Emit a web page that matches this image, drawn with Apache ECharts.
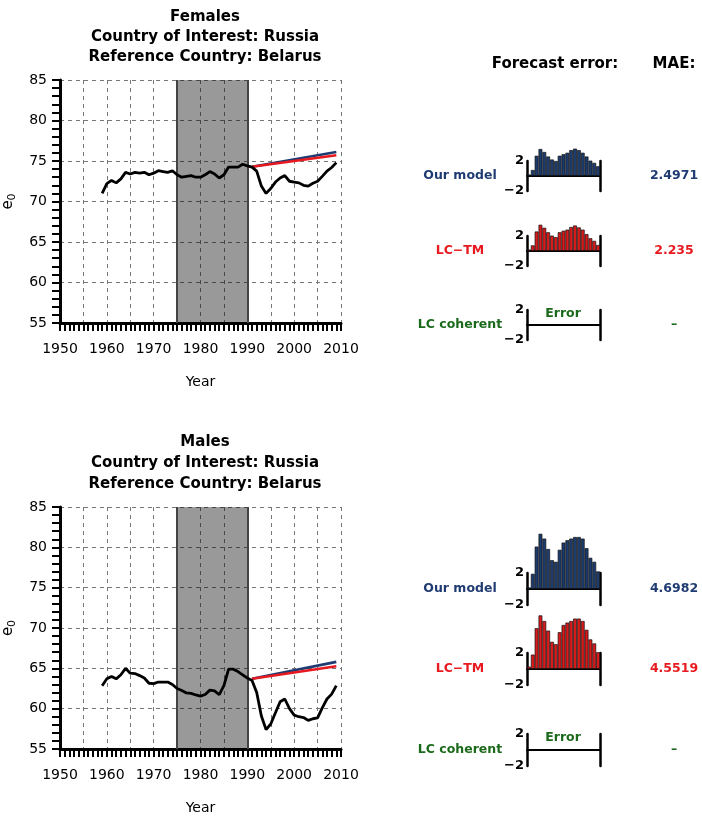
<!DOCTYPE html>
<html><head><meta charset="utf-8">
<script src="https://cdn.jsdelivr.net/npm/echarts@6/dist/echarts.min.js"></script>
<style>html,body{margin:0;padding:0;background:#fff}#c{width:702px;height:816px}</style>
</head><body><div id="c"></div>
<script>
// ---------- data ----------
const obsYears = [1959,1960,1961,1962,1963,1964,1965,1966,1967,1968,1969,1970,1971,1972,1973,1974,1975,1976,1977,1978,1979,1980,1981,1982,1983,1984,1985,1986,1987,1988,1989,1990,1991,1992,1993,1994,1995,1996,1997,1998,1999,2000,2001,2002,2003,2004,2005,2006,2007,2008,2009];
const femaleE0 = [71.0,72.2,72.6,72.3,72.8,73.6,73.4,73.6,73.5,73.6,
                  73.3,73.5,73.8,73.7,73.6,73.8,73.3,73.0,73.1,73.2,
                  73.0,73.0,73.3,73.7,73.4,72.9,73.3,74.25,74.25,74.25,
                  74.6,74.4,74.25,73.75,71.9,71.0,71.6,72.4,72.9,73.2,
                  72.5,72.4,72.3,72.0,71.9,72.25,72.5,73.1,73.75,74.2,
                  74.8];
const maleE0 = [62.85,63.7,64.0,63.7,64.2,65.0,64.4,64.35,64.1,63.8,
                63.15,63.1,63.3,63.3,63.3,63.0,62.5,62.25,61.95,61.9,
                61.7,61.55,61.75,62.3,62.2,61.75,62.85,64.9,64.9,64.6,
                64.2,63.8,63.5,62.0,59.1,57.4,58.1,59.5,60.85,61.2,
                60.0,59.2,59.0,58.9,58.55,58.75,58.85,60.1,61.2,61.8,
                62.85];
const forecastYears = [1991, 2009];
const femaleOurModel = [74.3, 76.1];
const femaleLCTM = [74.3, 75.7];
const maleOurModel = [63.7, 65.8];
const maleLCTM = [63.7, 65.25];
const shadeYears = [1975, 1990];

const errorYears = [1991,1992,1993,1994,1995,1996,1997,1998,1999,2000,2001,2002,2003,2004,2005,2006,2007,2008,2009];
const femaleErrOur = [0.2,0.8,2.7,3.6,3.2,2.6,2.2,2.0,2.7,2.9,3.1,3.45,3.65,3.45,3.1,2.6,2.05,1.75,1.3];
const femaleErrLCTM = [0.2,0.75,2.6,3.5,3.1,2.5,2.05,1.85,2.5,2.7,2.85,3.2,3.4,3.15,2.85,2.25,1.7,1.35,0.8];
const maleErrOur = [0.2,1.9,5.3,6.9,6.3,5.0,3.6,3.4,4.9,5.8,6.1,6.3,6.5,6.5,6.3,5.1,3.9,3.4,2.2];
const maleErrLCTM = [0.3,1.8,5.1,6.7,6.0,4.8,3.4,3.1,4.6,5.5,5.8,6.0,6.3,6.3,6.0,4.9,3.7,3.2,2.1];

const modelNames = ['Our model', 'LC\u2212TM', 'LC coherent'];
const maeFemale = ['2.4971', '2.235', '\u2013'];
const maeMale = ['4.6982', '4.5519', '\u2013'];
const panelTitles = [
  'Females\nCountry of Interest: Russia\nReference Country: Belarus',
  'Males\nCountry of Interest: Russia\nReference Country: Belarus'
];

// ---------- styles ----------
const FONT = 'DejaVu Sans';
const NAVY = '#1f3b72', RED = '#e8191f', GREEN = '#1b6a1b';
const BAR_NAVY = '#1d3c6e', BAR_RED = '#d81a1a';
const modelColors = [NAVY, RED, GREEN];

const grids = [], xAxes = [], yAxes = [], series = [], graphics = [];

function mainPanel(top, obs, ours, lctm) {
  const gi = grids.length;
  grids.push({left: 60, top: top, width: 281, height: 243});
  xAxes.push({
    type: 'value', gridIndex: gi, min: 1950, max: 2010, interval: 5,
    name: 'Year', nameLocation: 'middle', nameGap: 52,
    nameTextStyle: {fontFamily: FONT, fontSize: 14, color: '#000'},
    axisLine: {show: true, onZero: false, lineStyle: {color: '#000', width: 3}},
    axisTick: {show: true, length: 8, lineStyle: {color: '#000', width: 2}},
    minorTick: {show: true, splitNumber: 5, length: 8, lineStyle: {color: '#000', width: 2}},
    splitLine: {show: true, lineStyle: {color: '#777', width: 1, type: [4, 4]}},
    axisLabel: {margin: 19, fontFamily: FONT, fontSize: 14, color: '#000',
      formatter: v => (v % 10 === 0 ? String(v) : '')}
  });
  const yi = yAxes.length;
  yAxes.push({
    type: 'value', gridIndex: gi, min: 55, max: 85, interval: 5,
    name: '{a|e}{b|0}', nameLocation: 'middle', nameGap: 42, nameRotate: 90,
    nameTextStyle: {rich: {
      a: {fontFamily: FONT, fontSize: 15, color: '#000'},
      b: {fontFamily: FONT, fontSize: 11, color: '#000', padding: [8, 0, 0, 0]}
    }},
    axisLine: {show: true, onZero: false, lineStyle: {color: '#000', width: 3}},
    axisTick: {show: true, length: 8, lineStyle: {color: '#000', width: 2}},
    minorTick: {show: true, splitNumber: 5, length: 8, lineStyle: {color: '#000', width: 2}},
    splitLine: {show: true, lineStyle: {color: '#777', width: 1, type: [4, 4]}},
    axisLabel: {margin: 13, fontFamily: FONT, fontSize: 14, color: '#000'}
  });
  const xi = xAxes.length - 1;
  // shaded reference period
  series.push({
    type: 'line', xAxisIndex: xi, yAxisIndex: yi, data: [], z: 1, silent: true,
    markArea: {silent: true, itemStyle: {color: 'rgba(0,0,0,0.4)'},
      data: [[{xAxis: shadeYears[0]}, {xAxis: shadeYears[1]}]]},
    markLine: {silent: true, symbol: 'none', label: {show: false},
      lineStyle: {color: '#444', width: 2, type: 'solid'},
      data: shadeYears.map(y => ({xAxis: y}))}
  });
  series.push({
    type: 'line', xAxisIndex: xi, yAxisIndex: yi, z: 5, showSymbol: false, symbol: 'none',
    lineStyle: {color: '#000', width: 2.8}, data: obsYears.map((y, i) => [y, obs[i]])
  });
  series.push({
    type: 'line', xAxisIndex: xi, yAxisIndex: yi, z: 4, symbol: 'none',
    lineStyle: {color: NAVY, width: 2.6}, data: forecastYears.map((y, i) => [y, ours[i]])
  });
  series.push({
    type: 'line', xAxisIndex: xi, yAxisIndex: yi, z: 4, symbol: 'none',
    lineStyle: {color: RED, width: 2.6}, data: forecastYears.map((y, i) => [y, lctm[i]])
  });
}

function miniPanel(top, height, errs, color) {
  const gi = grids.length;
  grids.push({left: 527, top: top, width: 73, height: height});
  const xi = xAxes.length;
  xAxes.push({
    type: 'category', gridIndex: gi, data: errorYears, boundaryGap: true,
    axisLine: {show: true, onZero: true, lineStyle: {color: '#000', width: 2}},
    axisTick: {show: false}, axisLabel: {show: false}, splitLine: {show: false}
  });
  const yi = yAxes.length;
  const base = {
    type: 'value', gridIndex: gi, min: -2, max: 2, interval: 4,
    axisLine: {show: true, lineStyle: {color: '#000', width: 2.5, cap: 'round'}},
    axisTick: {show: false}, splitLine: {show: false}
  };
  yAxes.push(Object.assign({}, base, {
    position: 'left',
    axisLabel: {margin: 3, fontFamily: FONT, fontWeight: 'bold', fontSize: 13, color: '#000',
      formatter: v => (v < 0 ? '\u2212' + Math.abs(v) : String(v))}
  }));
  yAxes.push(Object.assign({}, base, {position: 'right', axisLabel: {show: false}}));
  if (errs) {
    series.push({
      type: 'bar', xAxisIndex: xi, yAxisIndex: yi, data: errs, clip: false,
      barCategoryGap: '0%', z: 2,
      itemStyle: {color: color, borderColor: '#111', borderWidth: 0.7}
    });
  } else {
    series.push({type: 'bar', xAxisIndex: xi, yAxisIndex: yi, data: []});
  }
}

function sidePanel(tops, height, errsList, maes) {
  const colors = [BAR_NAVY, BAR_RED];
  tops.forEach((t, k) => {
    miniPanel(t, height, errsList[k] || null, colors[k]);
    const mid = t + height / 2;
    graphics.push({type: 'text', x: 460, y: mid, style: {
      text: modelNames[k], fill: modelColors[k], font: 'bold 12.5px "' + FONT + '"',
      textAlign: 'center', textVerticalAlign: 'middle'}});
    graphics.push({type: 'text', x: 674, y: mid, style: {
      text: maes[k], fill: modelColors[k], font: 'bold 12.5px "' + FONT + '"',
      textAlign: 'center', textVerticalAlign: 'middle'}});
    if (!errsList[k]) {
      graphics.push({type: 'text', x: 563, y: t + 4, style: {
        text: 'Error', fill: GREEN, font: 'bold 12.5px "' + FONT + '"',
        textAlign: 'center', textVerticalAlign: 'middle'}});
    }
  });
}

mainPanel(80, femaleE0, femaleOurModel, femaleLCTM);
mainPanel(507, maleE0, maleOurModel, maleLCTM);
sidePanel([161, 236, 310], 30, [femaleErrOur, femaleErrLCTM, null], maeFemale);
sidePanel([573, 653, 734], 32, [maleErrOur, maleErrLCTM, null], maeMale);

graphics.push({type: 'text', x: 555, y: 64, style: {text: 'Forecast error:', fill: '#000',
  font: 'bold 15px "' + FONT + '"', textAlign: 'center', textVerticalAlign: 'middle'}});
graphics.push({type: 'text', x: 674, y: 64, style: {text: 'MAE:', fill: '#000',
  font: 'bold 15px "' + FONT + '"', textAlign: 'center', textVerticalAlign: 'middle'}});

const chart = echarts.init(document.getElementById('c'));
chart.setOption({
  animation: false,
  backgroundColor: '#fff',
  title: [
    {text: panelTitles[0], left: 200, top: 2, textAlign: 'center',
      textStyle: {fontFamily: FONT, fontWeight: 'bold', fontSize: 15, lineHeight: 20, color: '#000'}},
    {text: panelTitles[1], left: 200, top: 427, textAlign: 'center',
      textStyle: {fontFamily: FONT, fontWeight: 'bold', fontSize: 15, lineHeight: 21, color: '#000'}}
  ],
  grid: grids, xAxis: xAxes, yAxis: yAxes, series: series, graphic: graphics
});
</script></body></html>
